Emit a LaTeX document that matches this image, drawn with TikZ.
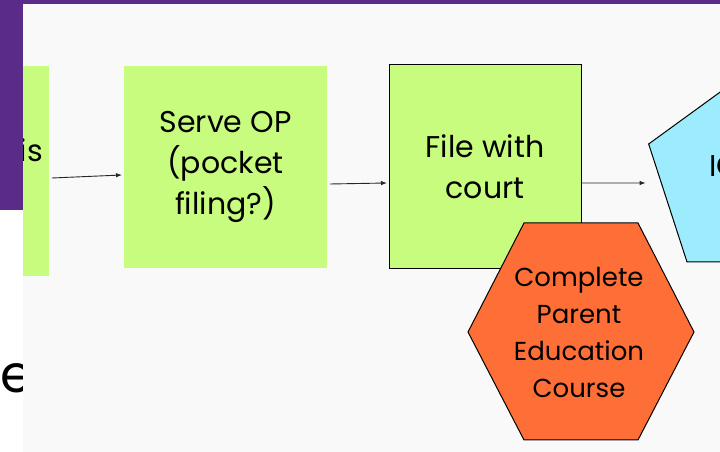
\documentclass[tikz,border=0pt]{standalone}
\usepackage{fontspec}
\setmainfont{Poppins}
\usetikzlibrary{shapes.geometric,arrows.meta,calc}
\definecolor{slidepurple}{HTML}{5B2B8A}
\definecolor{panelgray}{HTML}{F9F9F9}
\definecolor{stepgreen}{HTML}{C8FC7E}
\definecolor{hexorange}{HTML}{FE6F37}
\definecolor{pentblue}{HTML}{9CECFE}

\begin{document}
\begin{tikzpicture}[x=1pt,y=1pt,
  greenbox/.style={fill=stepgreen, draw=none, inner sep=0, outer sep=0},
  boxtext/.style={font=\fontsize{30}{41}\selectfont, align=center, text=black},
  hextext/.style={font=\fontsize{26}{37}\selectfont, align=center, text=black},
  outline/.style={draw=black, line width=1pt},
  flow/.style={draw=black!85, line width=0.9pt, -{Latex[length=6pt,width=4.5pt]}},
]
\useasboundingbox (0,0) rectangle (720,452);
% slide background and the text running off its left edge
\fill[white] (0,0) rectangle (720,452);
\node[anchor=base east, font=\fontsize{52}{60}\selectfont, inner sep=0] (ne) at (33,59) {ne};
\fill[panelgray] (23,0) rectangle (720,448);
\fill[slidepurple] (0,448) rectangle (720,452);
\fill[slidepurple] (0,242) rectangle (23,452);

\begin{scope}
\clip (23,0) rectangle (720,448);
% process steps
\node[greenbox, minimum width=26, minimum height=210] (isbox) at (36,281) {};
\node[boxtext, anchor=base east, inner sep=0] (istext) at (43,290) {is};
\node[greenbox, boxtext, minimum width=203, minimum height=202] (serve) at (225.5,285)
  {Serve OP\\(pocket\\filing?)};
\node[greenbox, outline, boxtext, minimum width=192, minimum height=204] (file) at (485,285)
  {File with\\court};
\node[regular polygon, regular polygon sides=5, minimum size=211, inner sep=0, outer sep=0,
  fill=pentblue, outline] (pent) at (749,275.4) {};
\node[boxtext, anchor=base west, inner sep=0] (penttext) at (709,275) {IC};

% hexagon for the parallel task
\filldraw[fill=hexorange, outline] (524,229) -- (638,229) -- (694,120) -- (638,12)
  -- (524,12) -- (468,120) -- cycle;
\node[hextext] (hex) at (579,120) {Complete\\Parent\\Education\\Course};

% connectors
\draw[flow] ($(isbox.east)+(3,-7)$) -- ($(serve.west)+(-2,-8)$);
\draw[flow] ($(serve.east)+(3,-17)$) -- ($(file.west)+(-2,-16)$);
\draw[flow] ($(file.east)+(1,-16)$) -- ($(pent.corner 2)+(-3,-39)$);
\end{scope}
\end{tikzpicture}
\end{document}
